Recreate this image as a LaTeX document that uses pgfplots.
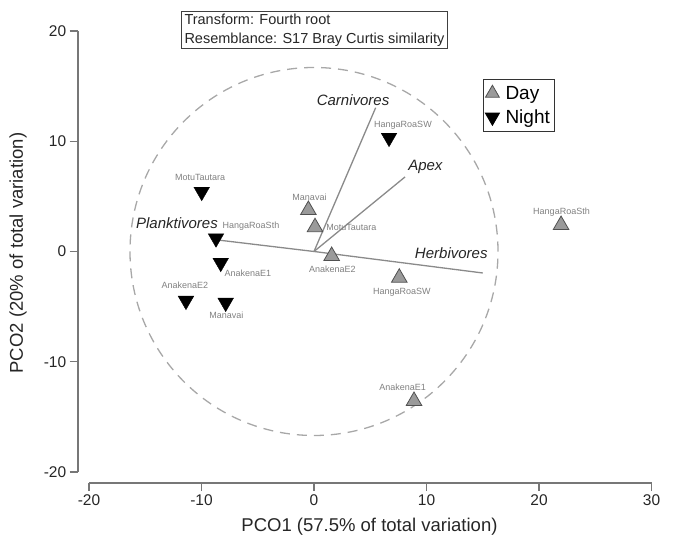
\documentclass[border=0pt]{standalone}
\usepackage{fontspec}
\setmainfont{Liberation Sans}
\usepackage{pgfplots}
\pgfplotsset{compat=1.18}
\definecolor{axgray}{HTML}{777777}
\definecolor{vecgray}{HTML}{8A8A8A}
\definecolor{circgray}{HTML}{A8A8A8}
\definecolor{dayfill}{HTML}{9A9A9A}
\definecolor{dayedge}{HTML}{505050}
\definecolor{lblgray}{HTML}{808080}
\begin{document}
\begin{tikzpicture}
\begin{axis}[
  x=11.25bp, y=11.025bp,
  xmin=-21, xmax=30, ymin=-21, ymax=20,
  axis lines*=left,
  axis line style={draw=none},
  clip=false,
  xtick={-20,-10,...,30}, ytick={-20,-10,...,20},
  tick align=outside,
  major tick length=8bp,
  tick style={axgray, line width=1.2bp},
  ticklabel style={font=\fontsize{15.5bp}{18bp}\selectfont, text=black!85},
  /pgf/number format/assume math mode=true,
  xlabel={PCO1 (57.5\% of total variation)},
  ylabel={PCO2 (20\% of total variation)},
  label style={font=\fontsize{18.5bp}{22bp}\selectfont, text=black!85},
  xlabel style={at={(axis cs:4.93,-24.99)}, anchor=center},
  ylabel style={at={(axis cs:-26.3,-0.14)}, anchor=center},
  legend style={at={(axis cs:15.02,15.65)}, anchor=north west, draw=black!80, line width=1bp,
    font=\fontsize{19bp}{21bp}\selectfont, inner xsep=2bp, inner ysep=4bp, row sep=4bp,
    column sep=1bp,
    nodes={inner xsep=3bp, inner ysep=2.5bp},
    cells={anchor=west}},
  legend cell align=left,
]
% frame of the picture
\path (axis cs:-27.91,22.81) rectangle (axis cs:31.91,-26.08);
% axis lines
\draw[axgray, line width=1.6bp] (axis cs:-21,-20) -- (axis cs:-21,20);
\draw[axgray, line width=1.6bp] (axis cs:-20,-21) -- (axis cs:30,-21);
% circle
\draw[circgray, line width=1.3bp, dash pattern=on 10bp off 7bp] (axis cs:0,0) circle[radius=184bp];
% vectors
\addplot[vecgray, line width=1.3bp, forget plot] coordinates {(0,0) (15.0,-1.95)};
\addplot[vecgray, line width=1.3bp, forget plot] coordinates {(0,0) (-8.53,1.04)};
\addplot[vecgray, line width=1.3bp, forget plot] coordinates {(0,0) (8.09,6.76)};
\addplot[vecgray, line width=1.3bp, forget plot] coordinates {(0,0) (5.48,13.04)};
% Day
\addplot[only marks, mark=triangle*, mark size=9bp,
  mark options={fill=dayfill, draw=dayedge, line width=0.8bp},
  legend image code/.code={\draw[mark size=8bp] plot coordinates {(6.9bp,0bp)}; \path[draw=none,fill=none] (0bp,0bp) -- (16bp,0bp);}]
  coordinates {(-0.5,3.76) (0.09,2.2) (1.57,-0.41) (7.58,-2.38) (21.96,2.4) (8.89,-13.56)};
\addlegendentry{Day}
% Night
\addplot[only marks, mark=triangle*, mark size=9bp,
  mark options={fill=black, draw=black, rotate=180},
  legend image code/.code={\draw[mark size=8bp] plot coordinates {(6.9bp,0bp)}; \path[draw=none,fill=none] (0bp,0bp) -- (16bp,0bp);}]
  coordinates {(-9.98,5.42) (-8.71,1.2) (-8.29,-1.02) (-11.38,-4.46) (-7.85,-4.64) (6.67,10.32)};
\addlegendentry{Night}
% vector labels
\begin{scope}[every node/.style={font=\fontsize{15bp}{17bp}\selectfont\itshape, text=black!85}]
\node at (axis cs:3.47,13.74) {Carnivores};
\node at (axis cs:9.9,7.66) {Apex};
\node at (axis cs:12.2,-0.14) {Herbivores};
\node at (axis cs:-12.18,2.59) {Planktivores};
\end{scope}
% point labels
\begin{scope}[every node/.style={font=\fontsize{9bp}{10bp}\selectfont, text=lblgray, inner sep=0pt}]
\node at (axis cs:-0.4,4.94) {Manavai};
\node at (axis cs:3.33,2.22) {MotuTautara};
\node at (axis cs:1.64,-1.59) {AnakenaE2};
\node at (axis cs:7.82,-3.67) {HangaRoaSW};
\node at (axis cs:22.0,3.58) {HangaRoaSth};
\node at (axis cs:7.87,-12.29) {AnakenaE1};
\node at (axis cs:-10.13,6.76) {MotuTautara};
\node at (axis cs:-5.6,2.31) {HangaRoaSth};
\node at (axis cs:-5.87,-1.95) {AnakenaE1};
\node at (axis cs:-11.47,-3.04) {AnakenaE2};
\node at (axis cs:-7.78,-5.76) {Manavai};
\node at (axis cs:7.91,11.47) {HangaRoaSW};
\end{scope}
% info box
\node[draw=black!75, line width=1bp, anchor=north west, align=left, inner xsep=3bp, inner ysep=2bp,
  font=\fontsize{14.5bp}{19bp}\selectfont, text=black!85]
  at (axis cs:-11.82,21.81) {Transform: Fourth root\\Resemblance: S17 Bray Curtis similarity};
\end{axis}
\end{tikzpicture}
\end{document}
